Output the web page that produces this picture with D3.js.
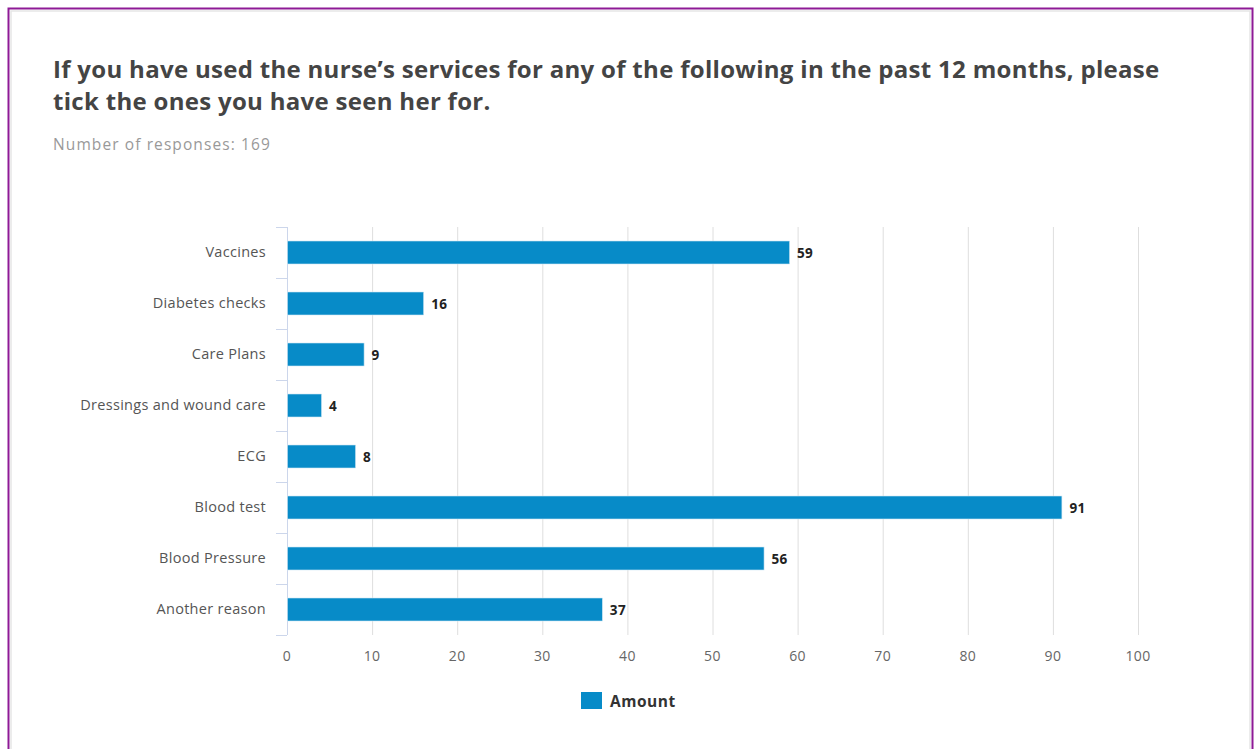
<!DOCTYPE html>
<html>
<head>
<meta charset="utf-8">
<script src="https://cdn.jsdelivr.net/npm/d3@7"></script>
<style>
  html, body { margin: 0; padding: 0; background: #fff; }
  body { width: 1257px; height: 749px; overflow: hidden; position: relative; }
  svg { display: block; }
</style>
</head>
<body>
<svg id="chart" width="1257" height="749"></svg>
<script>
// Survey responses: services used from the nurse in the past 12 months
const categories = ["Vaccines", "Diabetes checks", "Care Plans", "Dressings and wound care", "ECG", "Blood test", "Blood Pressure", "Another reason"];
const amounts = [59, 16, 9, 4, 8, 91, 56, 37];
const xTicks = [0, 10, 20, 30, 40, 50, 60, 70, 80, 90, 100];
const seriesName = "Amount";
const titleLines = ["If you have used the nurse\u2019s services for any of the following in the past 12 months, please", "tick the ones you have seen her for."];
const subtitle = "Number of responses: 169";

(function () {
const svg = d3.select("#chart");
const font = "'Open Sans', 'Noto Sans', sans-serif";

// Card frame
svg.append("rect").attr("x", 8.5).attr("y", 8.5).attr("width", 1244).attr("height", 760)
  .attr("fill", "#fff").attr("stroke", "#8e1a96").attr("stroke-width", 2);
svg.append("rect").attr("x", 11).attr("y", 11).attr("width", 1239).attr("height", 760)
  .attr("fill", "none").attr("stroke", "#e6e6e6").attr("stroke-width", 1.5);

// Title and subtitle
const title = svg.append("text").attr("font-family", font).attr("font-weight", 700)
  .attr("font-size", 24).attr("letter-spacing", 0.3).attr("fill", "#444");
titleLines.forEach((t, i) => {
  title.append("tspan").attr("x", 53).attr("y", 78 + i * 32).text(t);
});
svg.append("text").attr("x", 53).attr("y", 150).attr("font-family", font)
  .attr("font-size", 15.5).attr("letter-spacing", 1.1).attr("fill", "#999").text(subtitle);

// Plot area
const pLeft = 287, pRight = 1138, pTop = 227, pBottom = 635;
const x = d3.scaleLinear().domain([0, 100]).range([pLeft, pRight]);
const y = d3.scaleBand().domain(categories).range([pTop, pBottom]).paddingInner(0).paddingOuter(0);

// Vertical grid lines
svg.append("g").selectAll("line").data(xTicks).join("line")
  .attr("x1", d => x(d) + 0.5).attr("x2", d => x(d) + 0.5)
  .attr("y1", pTop).attr("y2", pBottom)
  .attr("stroke", "#dedede").attr("stroke-width", 1);

// Y axis line and category tick marks
svg.append("line").attr("x1", pLeft + 0.5).attr("x2", pLeft + 0.5).attr("y1", pTop).attr("y2", pBottom)
  .attr("stroke", "#ccd6eb").attr("stroke-width", 1);
const bounds = categories.map(c => y(c)).concat([pBottom]);
svg.append("g").selectAll("line").data(bounds).join("line")
  .attr("x1", pLeft - 11).attr("x2", pLeft)
  .attr("y1", d => Math.round(d) + 0.5).attr("y2", d => Math.round(d) + 0.5)
  .attr("stroke", "#ccd6eb").attr("stroke-width", 1);

// Category labels
svg.append("g").selectAll("text").data(categories).join("text")
  .attr("x", 266).attr("y", d => y(d) + y.bandwidth() / 2 + 4.5)
  .attr("text-anchor", "end").attr("font-family", font).attr("font-size", 14.5)
  .attr("letter-spacing", 0.3).attr("fill", "#555").text(d => d);

// X tick labels
svg.append("g").selectAll("text").data(xTicks).join("text")
  .attr("x", d => x(d)).attr("y", 661)
  .attr("text-anchor", "middle").attr("font-family", font).attr("font-size", 14)
  .attr("letter-spacing", 0.4).attr("fill", "#666").text(d => d);

// Bars
const barH = 23;
const data = categories.map((c, i) => ({ c, v: amounts[i] }));
svg.append("g").selectAll("rect").data(data).join("rect")
  .attr("x", x(0) + 0.5)
  .attr("y", d => y(d.c) + (y.bandwidth() - barH) / 2)
  .attr("width", d => x(d.v) - x(0))
  .attr("height", barH)
  .attr("fill", "#078bc8").attr("stroke", "#cfe6f3").attr("stroke-width", 0.6);

// Value labels
svg.append("g").selectAll("text").data(data).join("text")
  .attr("x", d => x(d.v) + 8)
  .attr("y", d => y(d.c) + y.bandwidth() / 2 + 5)
  .attr("font-family", font).attr("font-size", 13.5).attr("font-weight", 700)
  .attr("letter-spacing", 0.3).attr("fill", "#222").text(d => d.v);

// Legend
svg.append("rect").attr("x", 581).attr("y", 692).attr("width", 21).attr("height", 17)
  .attr("fill", "#078bc8");
svg.append("text").attr("x", 610).attr("y", 707).attr("font-family", font)
  .attr("font-size", 15.5).attr("font-weight", 700).attr("letter-spacing", 0.5)
  .attr("fill", "#333").text(seriesName);
})();
</script>
</body>
</html>
